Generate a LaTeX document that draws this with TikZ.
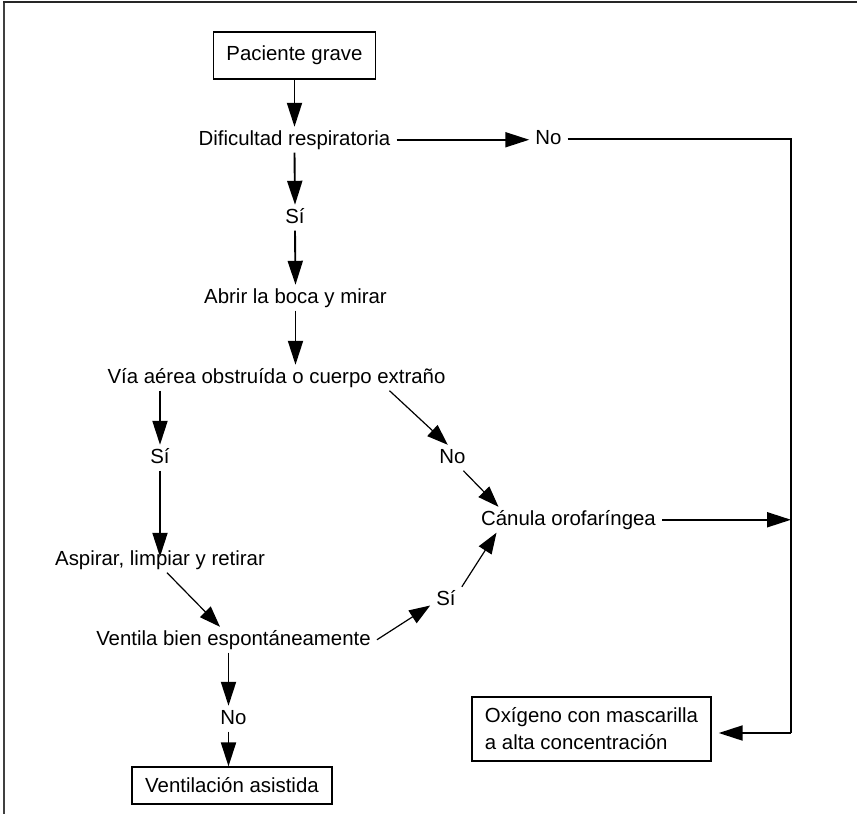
\documentclass[tikz,border=0pt]{standalone}
\usepackage{fontspec}
\setmainfont{Liberation Sans}
\usetikzlibrary{arrows.meta}

\begin{document}
\begin{tikzpicture}[x=1pt,y=-1pt]
        \tikzstyle{every node}=[font=\fontsize{20.4}{27}\selectfont]
        \tikzstyle{flowtext}=[inner xsep=6pt,inner ysep=3pt,text height=15pt,text depth=4.5pt,anchor=base]
        \tikzstyle{flowbox}=[draw,line width=1.2pt,inner xsep=13pt]
        \tikzstyle{flowarrow}=[-{Triangle[length=24pt,width=15pt]},line width=1.9pt]
        \tikzstyle{diagarrow}=[-{Triangle[length=21pt,width=15pt]},line width=1.2pt]
        \tikzstyle{flowline}=[line width=1.9pt]

        \useasboundingbox (0,0) rectangle (857,814);

        %% frame
        \draw [line width=2pt,black!75] (4,814) -- (4,2);
        \draw [line width=2pt,black!85] (3,2) -- (857,2);

        %% main column
        \node [flowbox,minimum width=159pt,minimum height=47pt] (pac) at (294.5,55.5) {Paciente grave};
        \node [flowtext] (dif) at (294.5,145) {Dificultad respiratoria};
        \node [flowtext] (no1) at (548.5,144) {No};
        \node [flowtext] (si1) at (295,223) {Sí};
        \node [flowtext] (abr) at (295.5,303) {Abrir la boca y mirar};
        \node [flowtext] (via) at (276.5,383) {Vía aérea obstruída o cuerpo extraño};

        %% left branch
        \node [flowtext] (si2) at (160,463) {Sí};
        \node [flowtext] (asp) at (160,565) {Aspirar, limpiar y retirar};
        \node [flowtext] (ven) at (233.5,645) {Ventila bien espontáneamente};
        \node [flowtext] (no3) at (233.5,724) {No};
        \node [flowbox,minimum width=200pt,minimum height=37pt] (vas) at (232,785.5) {Ventilación asistida};

        %% right branch
        \node [flowtext] (no2) at (452.5,463) {No};
        \node [flowtext] (si3) at (446,605) {Sí};
        \node [flowtext] (can) at (568.5,525) {Cánula orofaríngea};
        \node [flowbox,align=left,minimum width=239pt,minimum height=64pt] (oxi) at (591.5,729)
            {Oxígeno con mascarilla\\a alta concentración};

        \coordinate (railbot) at (791,733);

        %% arrows
        \draw [flowarrow] (pac) -- (dif);
        \draw [flowarrow] (dif.east) -- (no1.west |- dif.east);
        \draw [flowarrow] (dif.south) -- (si1.north);
        \draw [flowarrow] (si1.south) -- (abr.north);
        \draw [flowarrow] (abr.south) -- (abr.south |- via.north);
        \draw [flowarrow] (si2.north |- via.south) -- (si2.north);
        \draw [flowarrow,shorten >=-10pt] (si2.south) -- (asp.north);
        \draw [diagarrow] ([xshift=7pt]asp.south) -- ([xshift=-13.5pt]ven.north);
        \draw [flowarrow] ([xshift=-5pt]ven.south) -- ([xshift=-5pt]no3.north);
        \draw [flowarrow] ([xshift=-5pt]no3.south) -- ([xshift=-3.5pt]vas.north);

        \draw [diagarrow] ([xshift=113pt]via.south) -- (no2.110);
        \draw [diagarrow] (no2.-50) -- ([xshift=-70pt]can.north);
        \draw [diagarrow] (ven.east) -- (si3.-160);
        \draw [diagarrow] (si3.north east) -- ([xshift=-72pt]can.south);

        %% oxygen rail
        \draw [flowline] (no1.east) -| (railbot);
        \draw [flowarrow] (can.east) -- (can.east -| railbot);
        \draw [flowarrow,shorten >=7pt] (railbot) -- (oxi.east |- railbot);

    \end{tikzpicture}
\end{document}
